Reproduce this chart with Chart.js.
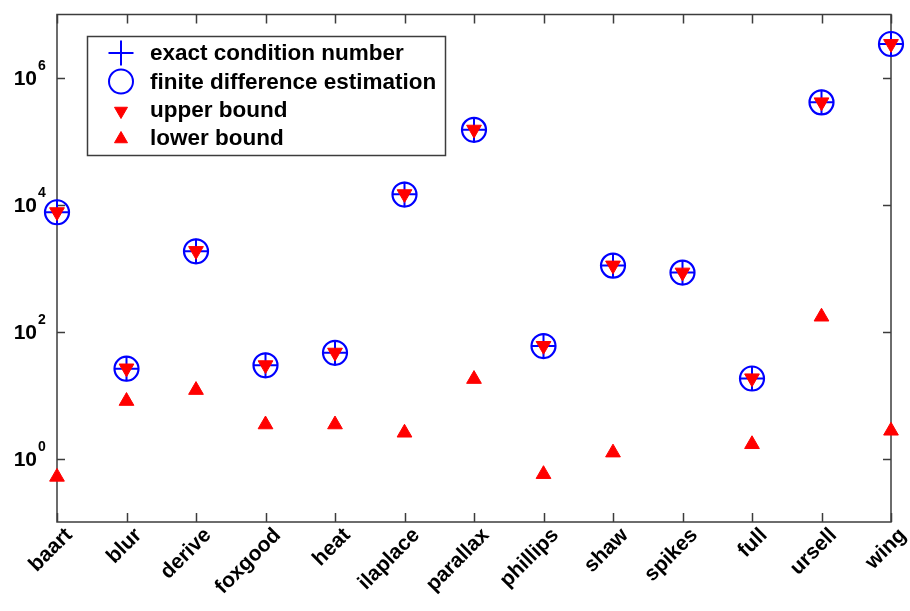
<!DOCTYPE html>
<html>
<head>
<meta charset="utf-8">
<style>
  html, body { margin: 0; padding: 0; background: #ffffff; }
  canvas { display: block; }
</style>
<script src="https://cdn.jsdelivr.net/npm/chart.js@4.4.1/dist/chart.umd.min.js"></script>
</head>
<body>
<canvas id="chart" width="910" height="611"></canvas>
<script>
// Test problems
const categories = ['baart', 'blur', 'derive', 'foxgood', 'heat', 'ilaplace', 'parallax',
                    'phillips', 'shaw', 'spikes', 'full', 'ursell', 'wing'];

// Condition number per problem
const exactValues = [7640, 26.1, 1850, 29.5, 46.5, 14700, 152000, 59.4, 1100, 854, 18.3, 412000, 3430000];
const finiteDiffValues = [7640, 26.1, 1850, 29.5, 46.5, 14500, 152000, 59.4, 1100, 854, 18.3, 412000, 3430000];
const upperBoundValues = [7700, 26.5, 1880, 29.8, 47.0, 14800, 154000, 60.0, 1110, 860, 18.5, 415000, 3450000];
const lowerBoundValues = [0.514, 8.06, 12.0, 3.44, 3.44, 2.55, 17.9, 0.567, 1.24, null, 1.68, 172, 2.74];

// Decades that carry a label on the y axis
const yTickPowers = [0, 2, 4, 6];
const yMin = 0.1, yMax = 1e7;

const legendLabels = ['exact condition number', 'finite difference estimation', 'upper bound', 'lower bound'];

const BLUE = '#0000ff';
const RED = '#ff0000';
const AXIS = '#3c3c3c';
const FONT = '"Liberation Sans", Arial, sans-serif';

// Draw one marker in the same style as the datasets use
function drawMarker(ctx, style, x, y, r, rot, fill, stroke, lw) {
  ctx.save();
  ctx.lineWidth = lw;
  ctx.strokeStyle = stroke;
  ctx.fillStyle = fill;
  ctx.beginPath();
  if (style === 'cross') {
    ctx.moveTo(x - r, y); ctx.lineTo(x + r, y);
    ctx.moveTo(x, y - r); ctx.lineTo(x, y + r);
    ctx.stroke();
  } else if (style === 'circle') {
    ctx.arc(x, y, r, 0, Math.PI * 2);
    ctx.stroke();
  } else if (style === 'triangle') {
    let a = rot * Math.PI / 180;
    ctx.moveTo(x + Math.sin(a) * r, y - Math.cos(a) * r);
    a += 2 * Math.PI / 3;
    ctx.lineTo(x + Math.sin(a) * r, y - Math.cos(a) * r);
    a += 2 * Math.PI / 3;
    ctx.lineTo(x + Math.sin(a) * r, y - Math.cos(a) * r);
    ctx.closePath();
    ctx.fill();
    ctx.stroke();
  }
  ctx.restore();
}

// Box, inward ticks, tick labels and the legend
const framePlugin = {
  id: 'frame',
  beforeDatasetsDraw(chart) {
    const { ctx, chartArea: a, scales } = chart;
    const xs = scales.x, ys = scales.y;
    ctx.save();
    ctx.strokeStyle = AXIS;
    ctx.lineWidth = 1.5;
    ctx.strokeRect(a.left, a.top, a.right - a.left, a.bottom - a.top);

    ctx.beginPath();
    categories.forEach((c, i) => {
      const x = Math.round(xs.getPixelForValue(i)) + 0.5;
      ctx.moveTo(x, a.bottom); ctx.lineTo(x, a.bottom - 9);
      ctx.moveTo(x, a.top); ctx.lineTo(x, a.top + 9);
    });
    yTickPowers.forEach(p => {
      const y = Math.round(ys.getPixelForValue(Math.pow(10, p))) + 0.5;
      ctx.moveTo(a.left, y); ctx.lineTo(a.left + 8, y);
      ctx.moveTo(a.right, y); ctx.lineTo(a.right - 8, y);
    });
    ctx.stroke();

    // y labels: 10 with the exponent raised
    ctx.fillStyle = '#000';
    yTickPowers.forEach(p => {
      const y = ys.getPixelForValue(Math.pow(10, p));
      ctx.font = 'bold 21px ' + FONT;
      ctx.textAlign = 'right';
      ctx.textBaseline = 'alphabetic';
      ctx.fillText('10', a.left - 20, y + 7.5);
      ctx.font = 'bold 14px ' + FONT;
      ctx.textAlign = 'left';
      ctx.fillText(String(p), a.left - 19, y - 8);
    });

    // x labels rotated by 45 degrees
    ctx.font = 'bold 21px ' + FONT;
    ctx.textAlign = 'right';
    ctx.textBaseline = 'middle';
    categories.forEach((c, i) => {
      const x = xs.getPixelForValue(i);
      ctx.save();
      ctx.translate(x + 12, a.bottom + 10);
      ctx.rotate(-Math.PI / 4);
      ctx.fillText(c, 0, 0);
      ctx.restore();
    });
    ctx.restore();
  },
  afterDatasetsDraw(chart) {
    const { ctx } = chart;
    const box = { x: 87.5, y: 36.5, w: 358, h: 119 };
    ctx.save();
    ctx.fillStyle = '#fff';
    ctx.fillRect(box.x, box.y, box.w, box.h);
    ctx.strokeStyle = AXIS;
    ctx.lineWidth = 1.5;
    ctx.strokeRect(box.x, box.y, box.w, box.h);

    const rows = [53, 81.5, 110, 138];
    const mx = 121;
    chart.data.datasets.forEach((ds, i) => {
      const y = rows[i];
      if (i === 0) drawMarker(ctx, 'cross', mx, y, 12.5, 0, BLUE, BLUE, 2);
      if (i === 1) drawMarker(ctx, 'circle', mx, y, 12, 0, BLUE, BLUE, 2);
      if (i === 2) drawMarker(ctx, 'triangle', mx, y + 1, 7.5, 180, RED, RED, 1);
      if (i === 3) drawMarker(ctx, 'triangle', mx, y + 1, 7.5, 0, RED, RED, 1);
      ctx.fillStyle = '#000';
      ctx.font = 'bold 22.5px ' + FONT;
      ctx.textAlign = 'left';
      ctx.textBaseline = 'middle';
      ctx.fillText(ds.label, 150, y + 1);
    });
    ctx.restore();
  }
};

const pointSet = (label, values, style, radius, rot, fill, stroke, lw, order) => ({
  label,
  data: values,
  showLine: false,
  pointStyle: style,
  pointRadius: radius,
  pointHoverRadius: radius,
  pointRotation: rot,
  pointBackgroundColor: fill,
  pointBorderColor: stroke,
  pointBorderWidth: lw,
  borderColor: stroke,
  backgroundColor: fill,
  clip: false,
  order
});

new Chart(document.getElementById('chart'), {
  type: 'line',
  data: {
    labels: categories,
    datasets: [
      pointSet(legendLabels[0], exactValues, 'cross', 12.5, 0, BLUE, BLUE, 2, 3),
      pointSet(legendLabels[1], finiteDiffValues, 'circle', 12, 0, 'rgba(0,0,0,0)', BLUE, 2.2, 2),
      pointSet(legendLabels[2], upperBoundValues, 'triangle', 8.5, 180, RED, RED, 1, 1),
      pointSet(legendLabels[3], lowerBoundValues, 'triangle', 8.5, 0, RED, RED, 1, 0)
    ]
  },
  options: {
    responsive: false,
    animation: false,
    layout: { padding: { left: 0, right: 19, top: 11, bottom: 0 } },
    plugins: { legend: { display: false }, tooltip: { enabled: false } },
    scales: {
      x: {
        type: 'category',
        offset: false,
        grid: { display: false },
        border: { display: false },
        ticks: { display: false },
        afterFit(s) { s.height = 89; }
      },
      y: {
        type: 'logarithmic',
        min: yMin,
        max: yMax,
        grid: { display: false },
        border: { display: false },
        ticks: { display: false },
        afterFit(s) { s.width = 57; }
      }
    }
  },
  plugins: [framePlugin]
});
</script>
</body>
</html>
